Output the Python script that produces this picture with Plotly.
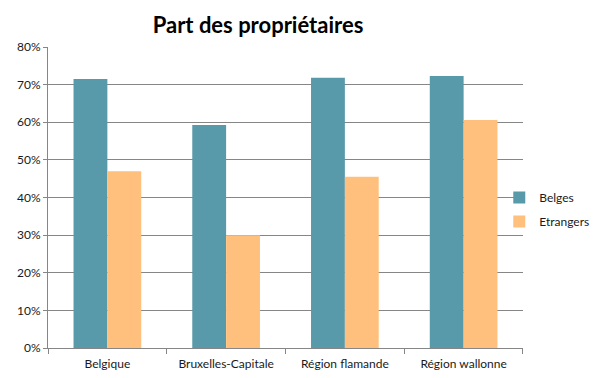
import plotly.graph_objects as go

categories = ["Belgique", "Bruxelles-Capitale", "Région flamande", "Région wallonne"]
belges = [0.715, 0.593, 0.718, 0.723]
etrangers = [0.470, 0.300, 0.455, 0.606]
y_ticks = [0, 0.1, 0.2, 0.3, 0.4, 0.5, 0.6, 0.7, 0.8]
y_tick_labels = ["0%", "10%", "20%", "30%", "40%", "50%", "60%", "70%", "80%"]

fig = go.Figure()
fig.add_trace(go.Bar(name="Belges", x=categories, y=belges, legendgroup="a",
                     marker=dict(color="#5899AA", line=dict(width=0))))
fig.add_trace(go.Bar(name="Etrangers", x=categories, y=etrangers, legendgroup="b",
                     marker=dict(color="#FFC07D", line=dict(width=0))))

# page body has an 8px margin; figure offset accordingly
W, H = 589, 370
fig.update_layout(
    width=W, height=H,
    margin=dict(l=40, r=0, t=39, b=30, autoexpand=False),
    paper_bgcolor="white", plot_bgcolor="white",
    barmode="group", bargap=0.43, bargroupgap=0,
    font=dict(family="Lato, Open Sans, sans-serif", size=12, color="#1a1a1a"),
    title=dict(text="<b>Part des propriétaires</b>", x=0.4245, xanchor="center", y=1 - 17 / H,
               yanchor="middle", font=dict(size=22, color="black", family="Lato, Open Sans, sans-serif")),
    showlegend=True,
    legend=dict(x=0.822, xanchor="left", y=0.46, yanchor="middle", font=dict(size=12),
                traceorder="grouped", tracegroupgap=5, bgcolor="rgba(0,0,0,0)"),
    xaxis=dict(domain=[0, 0.8652], showline=True, linecolor="#868686", linewidth=1, ticks="outside",
               tickson="boundaries", ticklen=5, tickcolor="#868686", showgrid=False,
               ticklabelstandoff=5),
    yaxis=dict(range=[0, 0.8], tickvals=y_ticks, ticktext=y_tick_labels, showgrid=True, gridcolor="#868686",
               gridwidth=1, showline=True, linecolor="#868686", linewidth=1, ticks="outside", ticklen=4,
               tickcolor="#868686", zeroline=False),
)
fig.write_html("out.html")
